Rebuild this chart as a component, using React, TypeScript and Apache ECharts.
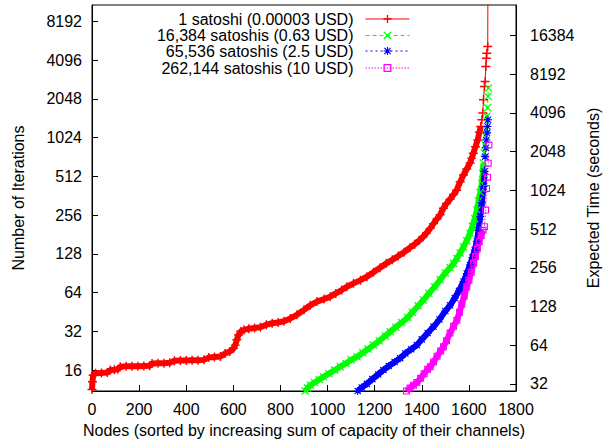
import React, { useEffect, useRef } from "react";
import * as echarts from "echarts";

const FONT = "Liberation Sans, Arial, Helvetica, sans-serif";

const seriesNames = [
  "1 satoshi (0.00003 USD)",
  "16,384 satoshis (0.63 USD)",
  "65,536 satoshis (2.5 USD)",
  "262,144 satoshis (10 USD)",
];
const seriesColors = ["#ff0000", "#00ff00", "#0000ff", "#ff00ff"];

const xName = "Nodes (sorted by increasing sum of capacity of their channels)";
const yLeftName = "Number of Iterations";
const yRightName = "Expected Time (seconds)";

const xMin = 0;
const xMax = 1800;
const xInterval = 200;
const yLeftMin = 11;
const yLeftMax = 11000;
const secondsPerIteration = 2.565;

// [node index, number of iterations]
const sat1: [number, number][] = [
  [0, 11.3], [2, 13], [5, 14.6], [15, 15.1], [40, 15.2], [65, 15.3], [78, 16], [95, 16.1], [110, 16.2],
  [120, 17], [145, 17.1], [170, 17.1], [195, 17.1], [220, 17.2], [245, 17.3], [255, 18], [280, 18.1],
  [305, 18.1], [330, 18.2], [350, 18.9], [375, 19], [400, 19], [425, 19.1], [450, 19.1], [475, 19.2],
  [495, 20], [520, 20.2], [545, 20.4], [565, 21.5], [585, 22.3], [600, 23.5], [608, 25], [615, 27.5],
  [622, 30], [632, 32], [645, 32.8], [665, 33.5], [690, 34], [715, 34.5], [740, 36], [765, 37],
  [790, 37.5], [815, 38.3], [842, 40.3], [870, 43], [900, 47], [927, 51], [955, 54.5], [985, 57],
  [1011, 59.5], [1035, 63], [1060, 67], [1082, 71], [1110, 75.5], [1140, 80], [1167, 85], [1195, 92],
  [1223, 100], [1250, 108], [1275, 115], [1300, 123], [1325, 132], [1350, 143], [1370, 152], [1390, 163],
  [1405, 173], [1420, 186], [1436, 202], [1450, 220], [1465, 240], [1478, 258], [1492, 290], [1505, 315],
  [1520, 340], [1535, 370], [1548, 400], [1563, 465], [1577, 525], [1591, 585], [1605, 650], [1612, 710],
  [1619, 776], [1628, 870], [1637, 980], [1645, 1130], [1650, 1250], [1655, 1410], [1659, 1590],
  [1662, 2020], [1666, 2560], [1669, 2800], [1672, 3660], [1674, 4240], [1676, 4640], [1680, 5234],
  [1681, 20000],
];

const sat16384: [number, number][] = [
  [905, 11], [915, 11.6], [927, 12.2], [945, 12.8], [965, 13.5], [983, 14.2], [1005, 15], [1030, 16],
  [1054, 17], [1078, 18], [1100, 19.2], [1125, 20.3], [1150, 21.8], [1172, 23.3], [1195, 25], [1220, 27],
  [1245, 29.5], [1266, 31.8], [1290, 34.5], [1315, 37.5], [1340, 41], [1360, 45], [1385, 50.5],
  [1407, 56], [1430, 63], [1455, 71], [1478, 80.5], [1500, 91], [1520, 100], [1535, 108], [1549, 118],
  [1563, 130], [1577, 145], [1591, 162], [1605, 185], [1615, 210], [1625, 240], [1634, 281], [1641, 330],
  [1648, 385], [1655, 450], [1659, 540], [1662, 650], [1666, 780], [1669, 900], [1672, 1050],
  [1674, 1200], [1676, 1500], [1679, 1750], [1681, 2140], [1683, 2490],
];

const sat65536: [number, number][] = [
  [1128, 11], [1145, 11.7], [1167, 12.5], [1190, 13.6], [1215, 14.8], [1237, 16], [1260, 17.2],
  [1285, 18.5], [1308, 19.8], [1330, 21.5], [1355, 23.2], [1379, 25], [1400, 27.7], [1425, 31],
  [1450, 34.8], [1475, 39.5], [1500, 46], [1520, 51], [1540, 58], [1558, 66], [1577, 78], [1591, 90],
  [1605, 105], [1615, 120], [1625, 137], [1634, 160], [1641, 195], [1648, 249], [1655, 320], [1662, 427],
  [1666, 560], [1669, 729], [1672, 855], [1674, 982], [1677, 1115], [1679, 1250], [1681, 1410],
];

const sat262144: [number, number][] = [
  [1335, 11], [1350, 11.6], [1365, 12.2], [1379, 12.8], [1395, 13.8], [1410, 15], [1425, 16.2],
  [1436, 17], [1450, 18.5], [1465, 20.5], [1480, 22.5], [1492, 24.3], [1505, 27], [1520, 31],
  [1535, 35], [1549, 39], [1560, 45], [1570, 52], [1580, 60], [1591, 71], [1600, 80], [1610, 92],
  [1620, 108], [1628, 122], [1636, 140], [1644, 160], [1652, 178], [1660, 195], [1666, 208],
  [1671, 280], [1675, 413], [1679, 505], [1682, 648], [1685, 897],
];

const allData = [sat1, sat16384, sat65536, sat262144];
// above these values the original's markers separate instead of forming a dense band
const denseLimits = [1300, 650, 700, 200];

const symbols = [
  "path://M4.2,0H5.8V4.2H10V5.8H5.8V10H4.2V5.8H0V4.2H4.2Z",
  "path://M0,1.1L1.1,0L5,3.9L8.9,0L10,1.1L6.1,5L10,8.9L8.9,10L5,6.1L1.1,10L0,8.9L3.9,5Z",
  "path://M4.3,0H5.7V4.3H10V5.7H5.7V10H4.3V5.7H0V4.3H4.3Z M0.6,1.6L1.6,0.6L5,4L8.4,0.6L9.4,1.6L6,5L9.4,8.4L8.4,9.4L5,6L1.6,9.4L0.6,8.4L4,5Z",
  "path://M0,0H10V10H0Z M1.6,1.6V8.4H8.4V1.6Z",
];
const symbolSizes = [9, 8, 8, 7];
const lineTypes: any[] = ["solid", [4, 3], [2, 3], [1.5, 1.5]];
const legendTops = [11, 27.5, 43, 60];

export default function App() {
  const ref = useRef<HTMLDivElement>(null);
  useEffect(() => {
    document.body.style.margin = "0";
    const chart = echarts.init(ref.current!, undefined, { renderer: "svg" });
    const axisText = { fontSize: 16, color: "#000", fontFamily: FONT };
    const series: any[] = [];
    allData.forEach((d, i) => {
      series.push({
        type: "line",
        name: "band" + i,
        data: d.filter((p) => p[1] <= denseLimits[i]),
        symbol: "none",
        silent: true,
        clip: true,
        lineStyle: { color: seriesColors[i], width: 6 },
      });
      series.push({
        type: "line",
        name: seriesNames[i],
        data: d,
        symbol: symbols[i],
        symbolSize: symbolSizes[i],
        clip: true,
        itemStyle: { color: seriesColors[i] },
        lineStyle: { color: seriesColors[i], width: 1, type: lineTypes[i] },
      });
    });
    const option: any = {
      animation: false,
      textStyle: { fontFamily: FONT },
      grid: {
        left: 92,
        right: 94,
        top: 5,
        bottom: 53,
        show: true,
        borderColor: "#000",
        borderWidth: 1,
        containLabel: false,
        outerBoundsMode: "none",
      },
      legend: seriesNames.map((n, i) => ({
        data: [n],
        right: 200,
        top: legendTops[i],
        orient: "horizontal",
        align: "right",
        padding: 0,
        itemWidth: 44,
        itemHeight: 10,
        itemGap: 0,
        selectedMode: false,
        lineStyle: { width: 1 },
        itemStyle: { borderWidth: 0 },
        textStyle: { fontSize: 16, color: "#000", fontFamily: FONT, padding: [0, 7, 0, 0] },
      })),
      xAxis: {
        type: "value",
        min: xMin,
        max: xMax,
        interval: xInterval,
        name: xName,
        nameLocation: "middle",
        nameGap: 31,
        nameTextStyle: axisText,
        axisLine: { show: true, lineStyle: { color: "#000", width: 1 } },
        axisTick: { show: true, inside: true, length: 6, lineStyle: { color: "#000" } },
        axisLabel: { ...axisText, margin: 10, formatter: (v: number) => String(v) },
        splitLine: { show: false },
      },
      yAxis: [
        {
          type: "log",
          logBase: 2,
          min: yLeftMin,
          max: yLeftMax,
          splitNumber: 10,
          position: "left",
          name: yLeftName,
          nameLocation: "middle",
          nameRotate: 90,
          nameGap: 66,
          nameTextStyle: axisText,
          axisLine: { show: true, lineStyle: { color: "#000", width: 1 } },
          axisTick: { show: true, inside: true, length: 6, lineStyle: { color: "#000" } },
          axisLabel: {
            ...axisText,
            margin: 10,
            showMinLabel: false,
            showMaxLabel: false,
            formatter: (v: number) => String(Math.round(v)),
          },
          splitLine: { show: false },
        },
        {
          type: "log",
          logBase: 2,
          min: yLeftMin * secondsPerIteration,
          max: yLeftMax * secondsPerIteration,
          splitNumber: 10,
          position: "right",
          name: yRightName,
          nameLocation: "middle",
          nameRotate: 90,
          nameGap: 66,
          nameTextStyle: axisText,
          axisLine: { show: true, lineStyle: { color: "#000", width: 1 } },
          axisTick: { show: true, inside: true, length: 6, lineStyle: { color: "#000" } },
          axisLabel: {
            ...axisText,
            margin: 14,
            showMinLabel: false,
            showMaxLabel: false,
            formatter: (v: number) => String(Math.round(v)),
          },
          splitLine: { show: false },
        },
      ],
      series,
    };
    chart.setOption(option);
    return () => chart.dispose();
  }, []);
  return <div ref={ref} style={{ width: 610, height: 444 }} />;
}
